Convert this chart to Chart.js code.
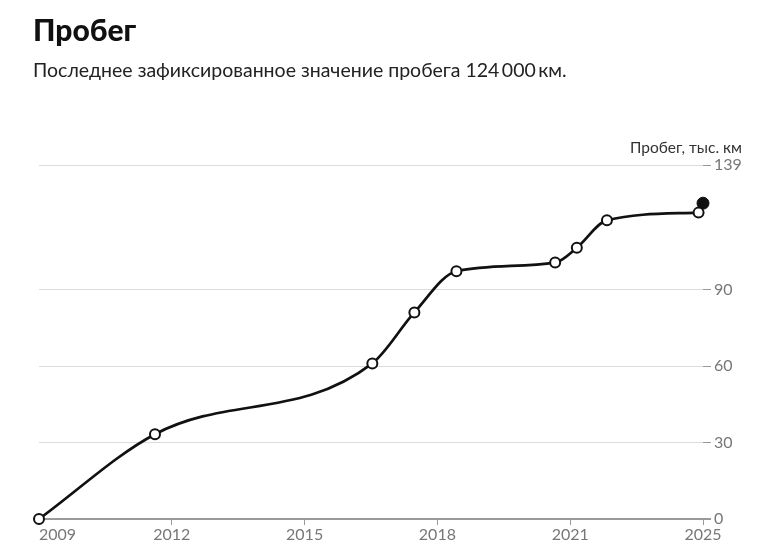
<!DOCTYPE html>
<html lang="ru">
<head>
    <meta charset="UTF-8">
    <title>Пробег</title>
    <script src="https://cdn.jsdelivr.net/npm/chart.js"></script>
    <style>
        body { margin: 0; background: #fff; font-family: Lato, "Noto Sans", sans-serif; }
        .wrap { position: relative; width: 760px; height: 558px; }
        canvas { position: absolute; left: 0; top: 0; }
        h1 {
            position: absolute; left: 33px; top: 14px; margin: 0;
            font-size: 30px; line-height: 30px; font-weight: 900; color: #111;
        }
        .sub {
            position: absolute; left: 33px; top: 60px; margin: 0;
            font-size: 19.5px; line-height: 19.5px; color: #222;
        }
        .ytitle {
            position: absolute; right: 18px; top: 140px;
            font-size: 15.5px; line-height: 15.5px; color: #333;
        }
    </style>
</head>
<body>
<div class="wrap">
    <canvas id="mileageChart" width="760" height="558"></canvas>
    <h1>Пробег</h1>
    <p class="sub">Последнее зафиксированное значение пробега 124&#8201;000&#8201;км.</p>
    <div class="ytitle">Пробег, тыс. км</div>
</div>

<script>
// данные пробега (годы в десятичном виде, тыс. км)
const years = [2009.0, 2011.62, 2016.53, 2017.48, 2018.43, 2020.66, 2021.15, 2021.83, 2023.9];
const mileage = [0, 33.3, 61.1, 81.1, 97.3, 100.7, 106.5, 117.3, 120.3];
const latestYear = [2024.0];
const latestMileage = [124];

const xTickValues = [2009, 2012, 2015, 2018, 2021, 2024];
const xTickLabels = ['2009', '2012', '2015', '2018', '2021', '2025'];
const yTickValues = [0, 30, 60, 90, 139];

const fontFamily = 'Lato, "Noto Sans", sans-serif';

// подписи оси X рисуем сами: первая прижата влево
const xLabelsPlugin = {
    id: 'xLabels',
    afterDraw(chart) {
        const ctx = chart.ctx;
        const xs = chart.scales.x;
        ctx.save();
        ctx.font = '16px ' + fontFamily;
        ctx.fillStyle = '#777';
        ctx.textBaseline = 'middle';
        xTickValues.forEach((v, i) => {
            ctx.textAlign = i === 0 ? 'left' : 'center';
            ctx.fillText(xTickLabels[i], xs.getPixelForValue(v), xs.bottom - 23);
        });
        ctx.restore();
    }
};

new Chart(document.getElementById('mileageChart'), {
    type: 'line',
    data: {
        datasets: [{
            data: years.map((y, i) => ({ x: y, y: mileage[i] })),
            borderColor: '#111',
            borderWidth: 2.7,
            cubicInterpolationMode: 'monotone',
            pointRadius: 5,
            pointBorderWidth: 2,
            pointBackgroundColor: '#fff',
            pointBorderColor: '#111',
            clip: false
        }, {
            data: latestYear.map((y, i) => ({ x: y, y: latestMileage[i] })),
            showLine: false,
            pointRadius: 6,
            pointBackgroundColor: '#111',
            pointBorderColor: '#111',
            clip: false
        }]
    },
    options: {
        responsive: false,
        animation: false,
        events: [],
        layout: { padding: { left: 39, top: 165, right: 0, bottom: 0 } },
        plugins: { legend: { display: false }, tooltip: { enabled: false } },
        scales: {
            x: {
                type: 'linear',
                min: 2009,
                max: 2024,
                afterBuildTicks: s => { s.ticks = xTickValues.map(v => ({ value: v })); },
                afterFit: s => { s.height = 39; },
                ticks: { display: false },
                grid: { drawOnChartArea: false, drawTicks: true, tickLength: 6, tickColor: '#999' },
                border: { display: true, color: '#999', width: 2 }
            },
            y: {
                position: 'right',
                min: 0,
                max: 139,
                afterBuildTicks: s => { s.ticks = yTickValues.map(v => ({ value: v })); },
                afterFit: s => { s.width = 57; },
                ticks: {
                    padding: 3,
                    color: '#777',
                    font: { family: fontFamily, size: 16 }
                },
                grid: {
                    color: c => c.tick && c.tick.value === 0 ? '#999' : '#dcdcdc',
                    lineWidth: c => c.tick && c.tick.value === 0 ? 2 : 1,
                    tickLength: 8,
                    tickColor: '#999'
                },
                border: { display: false }
            }
        }
    },
    plugins: [xLabelsPlugin]
});
</script>
</body>
</html>
